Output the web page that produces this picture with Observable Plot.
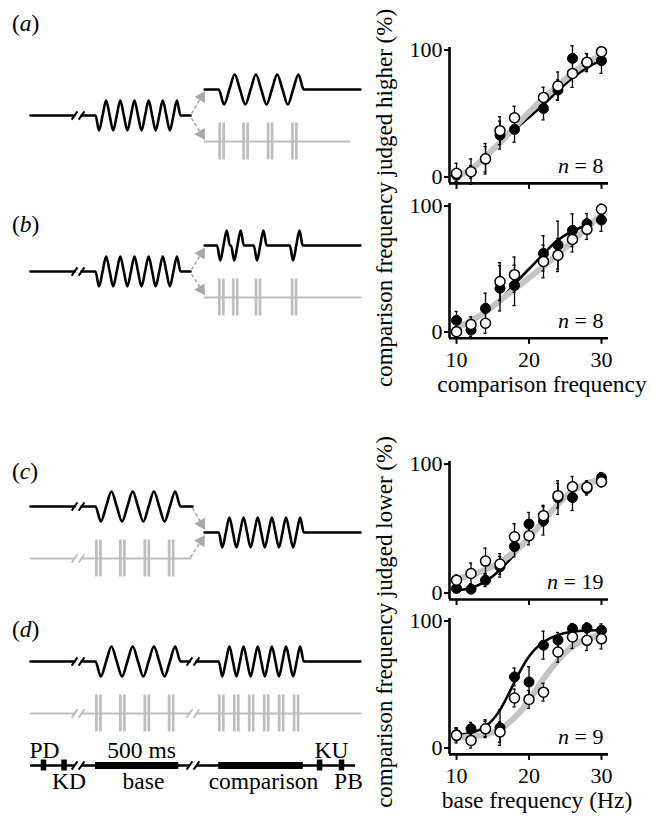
<!DOCTYPE html>
<html><head><meta charset="utf-8">
<script src="https://cdn.jsdelivr.net/npm/d3@7"></script>
<script src="https://cdn.jsdelivr.net/npm/@observablehq/plot@0.6"></script>
<style>
html,body{margin:0;padding:0;background:#fff;}
#fig{position:relative;width:655px;height:821px;overflow:hidden;background:#fff;}
</style></head><body><div id="fig"></div>
<script>
// ================= DATA =================
// Psychometric panels (percent of trials)
const fitFreqs  = [10,12,14,16,18,20,22,24,26,28,30];
const compFreqs = [10,12,14,16,18,22,24,26,28,30];      // panels a, b (base = 20 Hz)
const baseFreqs = [10,12,14,16,18,20,22,24,26,28,30];   // panels c, d

const aFilled    = [1.5, 4, 14, 33, 37.5, 54, 68.5, 93.4, 90, 91.6];
const aFilledErr = [5, 5, 10, 11, 10, 9, 8, 10, 7, 10];
const aOpen      = [2.9, 4.2, 14.4, 36.5, 46.7, 62.7, 71.7, 81.6, 90.3, 98.7];
const aOpenErr   = [8, 10, 12, 11, 9, 8, 11, 11, 7, 4];
const aFitBlack  = [1, 5, 15, 26, 37, 47, 57, 68, 78, 86, 92];
const aFitGray   = [1, 6, 16, 27, 39, 51, 62, 72, 82, 90, 96];

const bFilled    = [9.3, 1.6, 18.8, 34.7, 37, 62.4, 69, 80.7, 86, 88.9];
const bFilledErr = [7, 5, 12, 18, 16, 14, 19, 13, 8, 9];
const bOpen      = [0.3, 6, 7, 40, 45.5, 56, 61, 73.5, 81.5, 97.4];
const bOpenErr   = [4, 6, 8, 15, 14, 13, 13, 10, 8, 4];
const bFitBlack  = [3, 8, 15, 25, 38, 50, 62, 73, 80, 85, 89];
const bFitGray   = [3, 9, 16, 25, 34, 43, 52, 62, 72, 83, 93];

const cFilled    = [3.6, 3, 10, 20.4, 36, 53.5, 56, 74, 74, 81, 89.4];
const cFilledErr = [3, 3, 5, 8, 8, 9, 11, 13, 10, 5, 4];
const cOpen      = [10, 15.2, 24.8, 22.5, 43.7, 44.4, 60, 75.5, 82.4, 82, 86.3];
const cOpenErr   = [4, 8, 10, 8, 10, 7, 8, 9.5, 8, 5, 4];
const cFitBlack  = [2, 4, 9, 18, 30, 43, 56, 69, 79, 85, 88];
const cFitGray   = [11, 14, 18, 24, 32, 43, 56, 69, 79, 85, 88];

const dFilled    = [10.5, 15.2, 15, 16, 56, 52, 81, 85, 94, 94.5, 92.7];
const dFilledErr = [5, 5, 6, 14, 7, 12, 11, 6, 4, 4, 5];
const dOpen      = [10, 6, 15.2, 12.6, 39.4, 38.3, 44, 75.6, 87.4, 84.8, 86];
const dOpenErr   = [6, 6, 7, 8, 7, 7, 7, 8, 9, 8, 8];
const dFitBlack  = [10, 12, 17, 30, 52, 72, 83.5, 89, 91.5, 92.5, 93];
const dFitGray   = [8, 9, 10.5, 15, 24, 37.5, 54.5, 69, 80, 86, 89];

const nLabels = ["n = 8", "n = 8", "n = 19", "n = 9"];
const yTicks = [0, 100];
const xTicks = [10, 20, 30];
const panelLetters = ["a", "b", "c", "d"];
const yTitles = ["comparison frequency judged higher (%)", "comparison frequency judged lower (%)"];
const xTitles = ["comparison frequency", "base frequency (Hz)"];

// Schematic stimuli (time in ms)
const baseCycles = [6, 6, 4, 4];           // panels a..d
const compCycles = [4, 0, 6, 6];
const pulses4 = [17, 158, 302, 445];       // pulse-pair times within a 4-pulse train
const pulses6 = [15, 103, 191, 279, 367, 455];
const burstOnsetsB = [715, 797, 931, 1143]; // single-cycle bursts, panel b
const timelineLabels = ["PD", "KD", "500 ms", "base", "comparison", "KU", "PB"];
const timelineLabelT = [-300, -156, 271, 282, 988, 1388, 1488];
const timelineLabelSide = [-1, 1, -1, 1, 1, -1, 1];
const timelineMarkers = [-306, -185, 1318, 1447];

// ================= LAYOUT =================
const FONT = "'Liberation Serif','Times New Roman',Times,serif";
const fig = document.getElementById("fig");
const baseStyle = {background: "transparent", fontFamily: FONT, overflow: "visible", maxWidth: "none", position: "absolute"};
function place(el, left, top) { el.style.left = left + "px"; el.style.top = top + "px"; fig.appendChild(el); }

// ---------- psychometric plots ----------
function psych(cfg) {
  const per = (cfg.y0 - cfg.y100) / 100;
  const top = cfg.y100 - 2 * per, bottom = cfg.y0 + 5 * per;
  const mt = 24, mb = 46;
  const pts = (ys, es) => cfg.freqs.map((x, i) => ({x, y: ys[i], e: es[i]}));
  const F = pts(cfg.filled, cfg.filledErr), O = pts(cfg.open, cfg.openErr);
  const fit = fitFreqs.map((x, i) => ({x, black: cfg.fitBlack[i], gray: cfg.fitGray[i]}));
  const err = (data) => [
    Plot.ruleX(data, {x: "x", y1: d => d.y - d.e, y2: d => d.y + d.e, stroke: "black", strokeWidth: 1.3}),
    Plot.ruleY(data, {y: d => d.y + d.e, x1: d => d.x - 0.22, x2: d => d.x + 0.22, stroke: "black", strokeWidth: 1.3}),
    Plot.ruleY(data, {y: d => d.y - d.e, x1: d => d.x - 0.22, x2: d => d.x + 0.22, stroke: "black", strokeWidth: 1.3})
  ];
  const svg = Plot.plot({
    width: 255, height: (bottom - top) + mt + mb,
    marginLeft: 49, marginRight: 47, marginTop: mt, marginBottom: mb,
    x: {domain: [9.03, 30.97], label: null},
    y: {domain: [-5, 102], label: null},
    style: {...baseStyle, fontSize: "22px"},
    marks: [
      Plot.axisY({ticks: yTicks, tickSize: 5, tickPadding: 2, strokeWidth: 2, fontSize: 22, label: null}),
      Plot.axisX({ticks: xTicks, tickSize: 6, tickPadding: 7, strokeWidth: 2, fontSize: 22, label: null,
                  tickFormat: cfg.xLabels ? (d => String(d)) : (() => "")}),
      Plot.ruleX([9.03], {stroke: "black", strokeWidth: 2.6}),
      Plot.ruleY([-5], {stroke: "black", strokeWidth: 2.6}),
      Plot.line(fit, {x: "x", y: "black", stroke: "black", strokeWidth: 2.6, curve: "natural"}),
      Plot.line(fit, {x: "x", y: "gray", stroke: "#c4c4c4", strokeWidth: 6, curve: "natural"}),
      ...err(F), ...err(O),
      Plot.dot(F, {x: "x", y: "y", r: 5, fill: "black", stroke: "black", strokeWidth: 1}),
      Plot.dot(O, {x: "x", y: "y", r: 5, fill: "white", stroke: "black", strokeWidth: 1.5}),
      Plot.text([cfg.n], {frameAnchor: "bottom-right", dx: -5, dy: -10.5, textAnchor: "end", lineAnchor: "bottom", fontSize: 22, fill: "black"})
    ]
  });
  // italic "n"
  d3.select(svg).selectAll("text").filter(function () { return this.textContent === cfg.n; }).each(function () {
    const t = d3.select(this); const rest = cfg.n.slice(1);
    t.text(null);
    t.append("tspan").attr("font-style", "italic").text("n");
    t.append("tspan").text(rest);
  });
  place(svg, 400, top - mt);
}

psych({freqs: compFreqs, filled: aFilled, filledErr: aFilledErr, open: aOpen, openErr: aOpenErr, fitBlack: aFitBlack, fitGray: aFitGray, n: nLabels[0], y0: 177, y100: 50, xLabels: false});
psych({freqs: compFreqs, filled: bFilled, filledErr: bFilledErr, open: bOpen, openErr: bOpenErr, fitBlack: bFitBlack, fitGray: bFitGray, n: nLabels[1], y0: 332, y100: 206, xLabels: true});
psych({freqs: baseFreqs, filled: cFilled, filledErr: cFilledErr, open: cOpen, openErr: cOpenErr, fitBlack: cFitBlack, fitGray: cFitGray, n: nLabels[2], y0: 593, y100: 464, xLabels: false});
psych({freqs: baseFreqs, filled: dFilled, filledErr: dFilledErr, open: dOpen, openErr: dOpenErr, fitBlack: dFitBlack, fitGray: dFitGray, n: nLabels[3], y0: 748, y100: 621, xLabels: true});

// ---------- schematic stimuli ----------
const PX_PER_MS = 0.17, ROW_PX = 26, AMP = 15 / 26;
const T0 = (30 - 95) / PX_PER_MS, T1 = (360 - 95) / PX_PER_MS;
const DUR = 500, BASE_ON = 0, COMP_ON = 725;
const BRK1 = [-123, -82], BRK2 = [553, 594];
const GRAY = "#bdbdbd", ARROW = "#a9a9a9";

const flat = (a, b) => [[a, 0], [b, 0]];
function wave(t0, dur, cycles) {
  const q = dur / (cycles * 4), pat = [0, 1, 0, -1], out = [];
  for (let k = 0; k <= cycles * 4; k++) out.push([t0 + k * q, pat[k % 4]]);
  return out;
}
function seg(row, pieces) {
  const pts = [];
  for (const p of pieces.flat()) {
    if (pts.length && Math.abs(pts[pts.length - 1][0] - p[0]) < 1e-6) continue;
    pts.push(p);
  }
  return pts.map(([t, v]) => ({t, y: row + AMP * v}));
}
function lineMark(pts, color, w) {
  return Plot.line(pts, {x: "t", y: "y", stroke: color, strokeWidth: w, curve: "monotone-x"});
}
function slashes(row, brk, color, w) {
  return Plot.link(brk, {x1: d => d - 17, y1: row + 0.16, x2: d => d + 17, y2: row - 0.16, stroke: color, strokeWidth: w});
}
function pulseBars(row, times) {
  const bars = times.flatMap(p => [p - 11.8, p + 11.8]);
  return Plot.ruleX(bars, {x: d => d, y1: row - 0.71, y2: row + 0.71, stroke: GRAY, strokeWidth: 2.7});
}
function arrowMarks(arrows) {
  const heads = arrows.map(([t1, r1, t2, r2]) => {
    const dx = (t2 - t1) * PX_PER_MS, dy = (r2 - r1) * ROW_PX, L = Math.hypot(dx, dy);
    const ux = dx / L, uy = dy / L, off = 6.3;
    return {t1, r1, t: t2 - ux * off / PX_PER_MS, r: r2 - uy * off / ROW_PX,
            angle: Math.atan2(ux, -uy) * 180 / Math.PI};
  });
  return [
    Plot.link(heads, {x1: "t1", y1: "r1", x2: "t", y2: "r", stroke: ARROW, strokeWidth: 1.6, strokeDasharray: "3.5,2.5"}),
    Plot.dot(heads, {x: "t", y: "r", symbol: "triangle", r: 4.5, fill: ARROW, stroke: "none", rotate: "angle"})
  ];
}
function schematic(row0px, rowDomain, marks) {
  const svg = Plot.plot({
    width: 400, height: (rowDomain[1] - rowDomain[0]) * ROW_PX,
    marginLeft: 30, marginRight: 40, marginTop: 0, marginBottom: 0,
    x: {domain: [T0, T1], axis: null},
    y: {domain: rowDomain, reverse: true, axis: null},
    style: {...baseStyle, fontSize: "23.5px"},
    marks
  });
  place(svg, 0, row0px + rowDomain[0] * ROW_PX);
}
const compEnd = COMP_ON + DUR;

// (a)
schematic(89.3, [-1, 3], [
  lineMark(seg(2, [flat(642, 1494)]), GRAY, 2),
  pulseBars(2, pulses4.map(p => COMP_ON + p)),
  lineMark(seg(1, [flat(T0, BRK1[0])]), "black", 2.6),
  lineMark(seg(1, [flat(BRK1[1], BASE_ON), wave(BASE_ON, DUR, baseCycles[0]), flat(DUR, 559)]), "black", 2.6),
  slashes(1, BRK1, "black", 2),
  lineMark(seg(0, [flat(642, COMP_ON), wave(COMP_ON, DUR, compCycles[0]), flat(compEnd, T1)]), "black", 2.6),
  ...arrowMarks([[565, 0.93, 642, 0.08], [565, 1.1, 642, 1.92]])
]);

// (b)
const burstPieces = [flat(642, burstOnsetsB[0])];
burstOnsetsB.forEach((o, i) => {
  burstPieces.push(wave(o, 76, 1));
  burstPieces.push(flat(o + 76, i + 1 < burstOnsetsB.length ? burstOnsetsB[i + 1] : T1));
});
schematic(245, [-1, 3], [
  lineMark(seg(2, [flat(642, T1)]), GRAY, 2),
  pulseBars(2, burstOnsetsB.map(o => o + 25)),
  lineMark(seg(1, [flat(T0, BRK1[0])]), "black", 2.6),
  lineMark(seg(1, [flat(BRK1[1], BASE_ON), wave(BASE_ON, DUR, baseCycles[1]), flat(DUR, 559)]), "black", 2.6),
  slashes(1, BRK1, "black", 2),
  lineMark(seg(0, burstPieces), "black", 2.6),
  ...arrowMarks([[565, 0.93, 642, 0.1], [565, 1.1, 642, 1.9]])
]);

// (c)
schematic(505.7, [-1, 3], [
  lineMark(seg(2, [flat(T0, BRK1[0])]), GRAY, 2),
  lineMark(seg(2, [flat(BRK1[1], 559)]), GRAY, 2),
  slashes(2, BRK1, GRAY, 1.8),
  pulseBars(2, pulses4.map(p => BASE_ON + p)),
  lineMark(seg(0, [flat(T0, BRK1[0])]), "black", 2.6),
  lineMark(seg(0, [flat(BRK1[1], BASE_ON), wave(BASE_ON, DUR, baseCycles[2]), flat(DUR, 571)]), "black", 2.6),
  slashes(0, BRK1, "black", 2),
  lineMark(seg(1, [flat(642, COMP_ON), wave(COMP_ON, DUR, compCycles[2]), flat(compEnd, T1)]), "black", 2.6),
  ...arrowMarks([[571, 0.06, 642, 0.88], [559, 1.95, 642, 1.12]])
]);

// (d)
const TL = 4;
const labelRows = timelineLabels.map((d, i) => ({label: d, t: timelineLabelT[i], side: timelineLabelSide[i]}));
schematic(661, [-1, 6], [
  lineMark(seg(2, [flat(T0, BRK1[0])]), GRAY, 2),
  lineMark(seg(2, [flat(BRK1[1], BRK2[0])]), GRAY, 2),
  lineMark(seg(2, [flat(BRK2[1], T1)]), GRAY, 2),
  slashes(2, [...BRK1, ...BRK2], GRAY, 1.8),
  pulseBars(2, [...pulses4.map(p => BASE_ON + p), ...pulses6.map(p => COMP_ON + p)]),
  lineMark(seg(0, [flat(T0, BRK1[0])]), "black", 2.6),
  lineMark(seg(0, [flat(BRK1[1], BASE_ON), wave(BASE_ON, DUR, baseCycles[3]), flat(DUR, BRK2[0])]), "black", 2.6),
  lineMark(seg(0, [flat(BRK2[1], COMP_ON), wave(COMP_ON, DUR, compCycles[3]), flat(compEnd, T1)]), "black", 2.6),
  slashes(0, [...BRK1, ...BRK2], "black", 2),
  // timeline
  Plot.ruleY([[T0, BRK1[0]], [BRK1[1], BRK2[0]], [BRK2[1], 1530]], {y: TL, x1: d => d[0], x2: d => d[1], stroke: "black", strokeWidth: 2.4}),
  slashes(TL, [...BRK1, ...BRK2], "black", 2),
  Plot.ruleY([[BASE_ON, BASE_ON + 490], [COMP_ON, COMP_ON + 497]], {y: TL, x1: d => d[0], x2: d => d[1], stroke: "black", strokeWidth: 7}),
  Plot.ruleX(timelineMarkers, {x: d => d, y1: TL - 0.21, y2: TL + 0.21, stroke: "black", strokeWidth: 5.5}),
  Plot.text(labelRows.filter(d => d.side < 0), {x: "t", y: TL, text: "label", dy: -15.5, fontSize: 23.5, fill: "black", textAnchor: "middle"}),
  Plot.text(labelRows.filter(d => d.side > 0), {x: "t", y: TL, text: "label", dy: 15.5, fontSize: 23.5, fill: "black", textAnchor: "middle"})
]);

// ---------- overlay text: panel letters, axis titles ----------
const ov = d3.create("svg").attr("width", 655).attr("height", 821)
  .style("position", "absolute").style("left", "0px").style("top", "0px")
  .style("overflow", "visible").style("pointer-events", "none")
  .attr("font-family", FONT).attr("fill", "black");
const letterBaselines = [31, 232, 478.5, 637];
panelLetters.forEach((l, i) => {
  const t = ov.append("text").attr("x", 12).attr("y", letterBaselines[i]).attr("font-size", 23.5);
  t.append("tspan").text("(");
  t.append("tspan").attr("font-style", "italic").text(l);
  t.append("tspan").text(")");
});
const yTitleCenters = [198, 622];
yTitles.forEach((s, i) => {
  ov.append("text").attr("transform", `translate(392,${yTitleCenters[i]}) rotate(-90)`)
    .attr("text-anchor", "middle").attr("font-size", 23).text(s);
});
const xTitlePos = [[542, 392], [537, 808]];
xTitles.forEach((s, i) => {
  ov.append("text").attr("x", xTitlePos[i][0]).attr("y", xTitlePos[i][1])
    .attr("text-anchor", "middle").attr("font-size", 23.5).text(s);
});
fig.appendChild(ov.node());
</script>
</body></html>
